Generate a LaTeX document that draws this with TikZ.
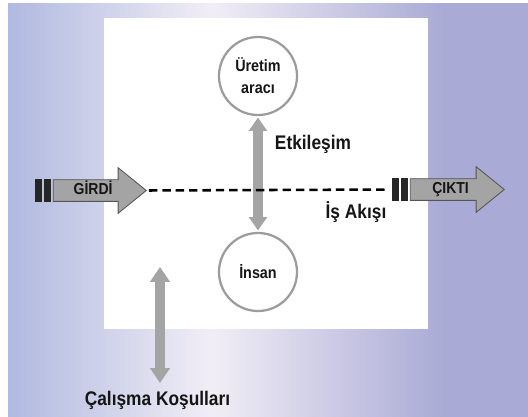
\documentclass[tikz,border=0pt]{standalone}
\usepackage{fontspec}
\setmainfont{Liberation Sans}
\newfontfamily\slidefont{Liberation Sans}[FakeStretch=0.88]
\usepackage{xcolor}
\usepackage{tikz}
\usetikzlibrary{arrows.meta,positioning,calc,shapes.arrows}
\definecolor{diagink}{HTML}{151515}
\definecolor{diaggrey}{HTML}{A4A4A4}
\definecolor{diagring}{HTML}{9C9C9C}
\definecolor{diagedge}{HTML}{555555}
\definecolor{bgleft}{HTML}{B0B9DF}
\definecolor{bgmid}{HTML}{F2EEF6}
\definecolor{bgright}{HTML}{A9AAD5}

\tikzset{
  ring/.style={
    draw=diagring,
    fill=white,
    circle,
    line width=1.6pt,
    minimum size=1.95cm,
    inner sep=0pt,
    align=center,
    text=diagink,
    font=\slidefont\fontsize{11.6}{15.6}\selectfont\bfseries
  },
  blockarrow/.style={
    single arrow,
    draw=diagedge,
    fill=diaggrey,
    line width=0.6pt,
    single arrow head extend=0.3cm,
    single arrow tip angle=78,
    inner xsep=0pt,
    inner ysep=2.9pt,
    text height=7pt,
    text depth=2pt,
    text=diagink,
    font=\slidefont\fontsize{11.3}{12}\selectfont\bfseries,
    anchor=tail
  },
  barmark/.style={
    fill=black!85,
    minimum width=0.175cm,
    minimum height=0.575cm,
    inner sep=0pt
  },
  dblarrow/.style={
    draw=diaggrey,
    line width=6.6pt,
    <->,
    >={Triangle[width=12.5pt,length=9.5pt]}
  },
  flowline/.style={
    draw=black,
    line width=1.8pt,
    dash pattern=on 6pt off 3.5pt
  },
  sidelabel/.style={
    text=diagink,
    font=\slidefont\fontsize{14}{16}\selectfont\bfseries
  }
}

\begin{document}
\begin{tikzpicture}[x=0.025cm,y=-0.025cm]
\useasboundingbox (0,0) rectangle (528,416);
% slide background
\fill[white] (0,0) rectangle (528,416);
\fill[bgright] (8,3) rectangle (534,422);
\shade[left color=bgleft, right color=bgmid] (8,3) rectangle (212,422);
\shade[left color=bgmid, right color=bgright] (210,3) rectangle (445,422);
\fill[white] (104,18) rectangle (428,329);

\node[ring] (tool) at (258,76) {Üretim\\aracı};
\node[ring] (human) at (258,272) {İnsan};

\draw[dblarrow, shorten <=1pt, shorten >=1pt] (tool) -- (human);

\node[sidelabel] (interact) at (313,144) {Etkileşim};
\node[sidelabel] (workflow) at (356,212) {İş Akışı};

\node[barmark] (inbarA) at (38.5,190.5) {};
\node[barmark, right=0.025cm of inbarA] (inbarB) {};
\node[blockarrow, minimum height=2.325cm] (input) at ($(inbarB.east)+(2,0)$) {GİRDİ};

\node[barmark] (outbarA) at (395.5,189.5) {};
\node[barmark, right=0.025cm of outbarA] (outbarB) {};
\node[blockarrow, minimum height=2.35cm] (output) at ($(outbarB.east)+(2,0)$) {ÇIKTI};

\draw[flowline, shorten <=0.05cm, shorten >=0.125cm] (input.tip) -- (outbarA.west);

\coordinate (condtop) at (160,267);
\coordinate (condbottom) at (160,383);
\draw[dblarrow, line width=7.8pt, >={Triangle[width=13.5pt,length=10.5pt]}] (condtop) -- (condbottom);
\node[sidelabel] (conditions) at (157.5,400) {Çalışma Koşulları};
\end{tikzpicture}
\end{document}
